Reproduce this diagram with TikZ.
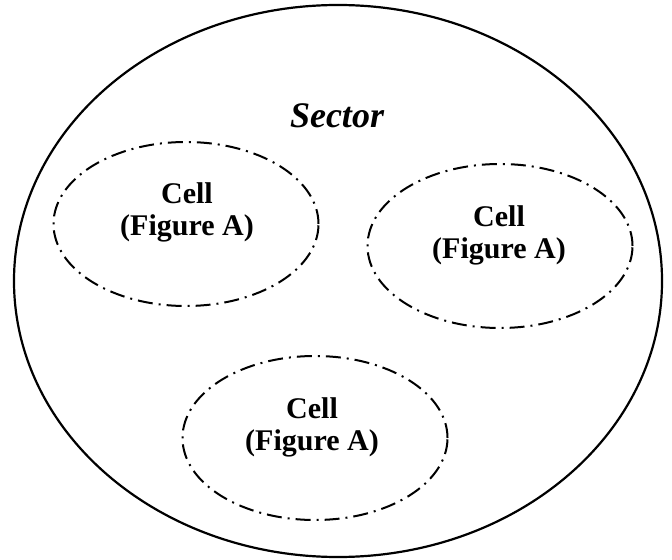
\documentclass[tikz,border=0pt]{standalone}
\usepackage{fontspec}
\setmainfont{Liberation Serif}
\usepackage{tikz}
\usetikzlibrary{shapes.geometric}

\begin{document}
\begin{tikzpicture}[
    x=0.5pt, y=-0.5pt,
    %% Outer sector outline
    sector/.style = {ellipse, draw=black, line width=1.1pt,
                     minimum width=324pt, minimum height=276pt, inner sep=0pt},
    %% Dash-dotted cell outline
    cell/.style   = {ellipse, draw=black, line width=1pt,
                     dash pattern=on 7.5pt off 3pt on 1pt off 3pt,
                     minimum width=132.5pt, minimum height=82pt, inner sep=0pt},
    %% Cell caption
    lbl/.style    = {font=\fontsize{15}{16}\selectfont\bfseries, align=center},
    %% Sector caption
    title/.style  = {font=\fontsize{18}{20}\selectfont\bfseries\itshape},
]
\useasboundingbox (0,0) rectangle (672,560);

%% ---- Sector ----
\node[sector] (sect) at (338, 281) {};
\node[title]  (sectname) at (337, 116) {Sector};

%% ---- Cells ----
\node[cell] (cella) at (186, 224) {};
\node[cell] (cellb) at (500, 246) {};
\node[cell] (cellc) at (315, 438) {};

\node[lbl] (txta) at (187, 212) {Cell\\(Figure A)};
\node[lbl] (txtb) at (499, 235) {Cell\\(Figure A)};
\node[lbl] (txtc) at (312, 427) {Cell\\(Figure A)};

\end{tikzpicture}
\end{document}
